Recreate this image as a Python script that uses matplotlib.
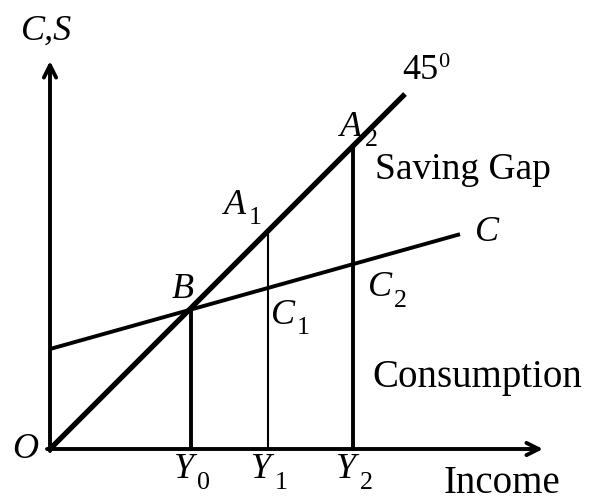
import numpy as np
import matplotlib.pyplot as plt

# income levels and consumption function C = a + b*Y
income_levels = [141, 218, 303]
income_subs = ['0', '1', '2']
autonomous_c = 100
mpc = 0.28
line45_end = 355
c_line_end = 410

def consumption(y):
    return autonomous_c + mpc * y

fig = plt.figure(figsize=(5.97, 5.03), dpi=100)
ax = fig.add_axes([0, 0, 1, 1])
ax.set_xlim(-50, 547)
ax.set_ylim(-54, 449)
ax.axis('off')

arrow = dict(arrowstyle='->', lw=2.8, color='black', mutation_scale=22,
             shrinkA=0, shrinkB=0)
ax.annotate('', xy=(0, 388), xytext=(0, -2), arrowprops=arrow)
ax.annotate('', xy=(493, 0), xytext=(-3, 0), arrowprops=arrow)

# 45 degree line and consumption line
yy = np.array([0, line45_end])
ax.plot(yy, yy, color='black', lw=3.8, solid_capstyle='butt')
cy = np.array([0, c_line_end])
ax.plot(cy, consumption(cy), color='black', lw=2.8, solid_capstyle='butt')

# verticals: Y0 up to B, Y1 and Y2 up to the 45 degree line
y0, y1, y2 = income_levels
ax.plot([y0, y0], [0, consumption(y0)], color='black', lw=2.8)
ax.plot([y1, y1], [0, y1], color='black', lw=1.5)
ax.plot([y2, y2], [0, y2], color='black', lw=2.8)

fs = 26
serif = 'Liberation Serif'

def lab(x, y, s, size=fs, **kw):
    kw.setdefault('ha', 'center')
    kw.setdefault('va', 'center')
    ax.text(x, y, s, fontsize=size, family=serif, **kw)

def sublab(x, y, main, sub):
    # italic letter with a large, low upright subscript
    lab(x, y, main, style='italic')
    lab(x + 20, y - 13, sub, size=fs * 0.72)

lab(-3, 418, 'C,S', style='italic')
lab(-25, -1, 'O', style='italic')
lab(370, 379, '45')
lab(394, 387, '0', size=fs * 0.62)
sublab(y2 - 2, 322, 'A', '2')
sublab(y1 - 33, 244, 'A', '1')
lab(y0 - 8, 159, 'B', style='italic')
sublab(y1 + 15, 134, 'C', '1')
sublab(y2 + 27, 161, 'C', '2')
lab(c_line_end + 27, 217, 'C', style='italic')
lab(325, 270, 'Saving Gap', size=27, ha='left', va='baseline')
lab(322, 62, 'Consumption', size=28, ha='left', va='baseline')
for x, s in zip(income_levels, income_subs):
    sublab(x - 7, -21, 'Y', s)
lab(394, -44, 'Income', size=28, ha='left', va='baseline')

fig.savefig('out.png', dpi=100, facecolor='white')
